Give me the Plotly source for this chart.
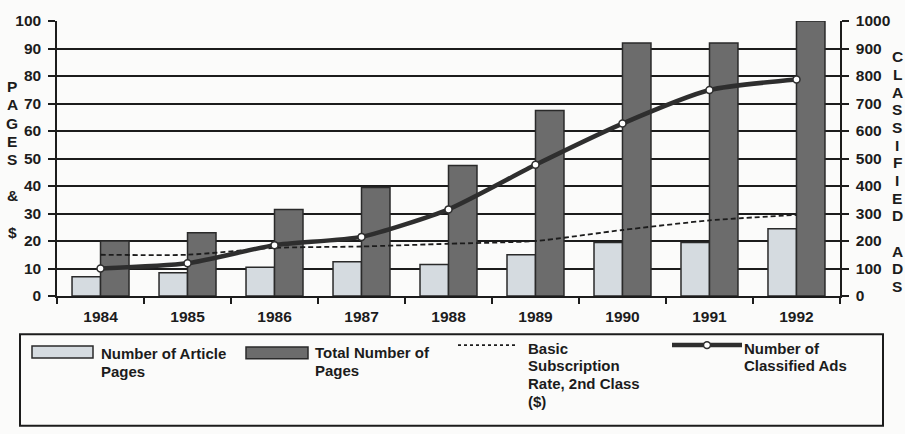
import plotly.graph_objects as go

# ---- data -------------------------------------------------------------
years = ["1984", "1985", "1986", "1987", "1988", "1989", "1990", "1991", "1992"]
article_pages = [7, 8.5, 10.5, 12.5, 11.5, 15, 19.5, 19.5, 24.5]
total_pages = [20, 23, 31.5, 39.5, 47.5, 67.5, 92, 92, 100]
subscription_rate = [15, 15, 17.5, 18, 19, 20, 24, 27.5, 29.5]
classified_ads = [100, 119, 185, 215, 315, 477, 627, 749, 787]

left_ticks = list(range(0, 101, 10))
right_ticks = list(range(0, 1001, 100))

# ---- page geometry (pixels) -----------------------------------------
W, H = 905, 434
PL, PR, PT, PB = 57, 840, 16, 296

INK = "#1c1c1c"
LIGHT = "#d5dbe0"
DARK = "#6c6c6c"
BG = "#fbfbfa"
FONT = "Liberation Sans, Arial, sans-serif"


def fx(x):
    return (x - PL) / (PR - PL)


def fy(y):
    return (PB - y) / (PB - PT)


fig = go.Figure()

fig.add_trace(go.Bar(
    x=years, y=article_pages, name="Number of Article Pages",
    marker=dict(color=LIGHT, line=dict(color="#2a2a2a", width=1.5)),
))
fig.add_trace(go.Bar(
    x=years, y=total_pages, name="Total Number of Pages",
    marker=dict(color=DARK, line=dict(color="#2a2a2a", width=1.5)),
))
fig.add_trace(go.Scatter(
    x=years, y=subscription_rate, name="Basic Subscription Rate, 2nd Class ($)",
    mode="lines", line=dict(color=INK, width=1.8, dash="5px,3px", shape="spline", smoothing=0.6),
))
fig.add_trace(go.Scatter(
    x=years, y=classified_ads, name="Number of Classified Ads", yaxis="y2",
    mode="lines+markers",
    line=dict(color="#2e2e2e", width=4.5, shape="spline", smoothing=0.6),
    marker=dict(symbol="circle", size=7, color="white", line=dict(color="#2e2e2e", width=1.5)),
))

tickfont = dict(family=FONT, size=15.5, color=INK, weight="bold")

fig.update_layout(
    width=W, height=H,
    margin=dict(l=PL, r=W - PR, t=PT, b=H - PB),
    paper_bgcolor=BG, plot_bgcolor=BG,
    showlegend=False,
    barmode="group", bargap=0.345, bargroupgap=0,
    font=dict(family=FONT, color=INK),
    xaxis=dict(
        type="category", showline=True, linecolor=INK, linewidth=1.5,
        ticks="outside", tickson="boundaries", ticklen=6, tickcolor=INK, tickwidth=1.5,
        showgrid=False, tickfont=tickfont, ticklabelstandoff=6,
    ),
    yaxis=dict(
        range=[0, 100], tickvals=left_ticks, showline=True, linecolor=INK, linewidth=1.5,
        ticks="outside", ticklen=7, tickcolor=INK, tickwidth=1.5,
        showgrid=True, gridcolor=INK, gridwidth=1.5, zeroline=False,
        tickfont=tickfont, ticklabelstandoff=4,
    ),
    yaxis2=dict(
        range=[0, 1000], tickvals=right_ticks, overlaying="y", side="right",
        showline=True, linecolor=INK, linewidth=1.5,
        ticks="outside", ticklen=7, tickcolor=INK, tickwidth=1.5,
        showgrid=False, zeroline=False, tickfont=tickfont, ticklabelstandoff=4,
    ),
)

annotations = []
shapes = []


def text_at(x, y, s, size=15, anchor="left"):
    annotations.append(dict(
        x=fx(x), y=fy(y), xref="paper", yref="paper", text=s, showarrow=False,
        xanchor=anchor, yanchor="middle",
        font=dict(family=FONT, size=size, color=INK, weight="bold"),
    ))


# stacked axis titles
for i, ch in enumerate("PAGES & $"):
    if ch != " ":
        text_at(12, 83 + 18.5 * i, ch, size=15.5, anchor="center")
for i, ch in enumerate("CLASSIFIED ADS"):
    if ch != " ":
        text_at(897, 52.5 + 18 * i, ch, size=15.5, anchor="center")

# legend frame
shapes.append(dict(type="rect", xref="paper", yref="paper",
                   x0=fx(20), x1=fx(883), y0=fy(335), y1=fy(428),
                   line=dict(color=INK, width=2), fillcolor="rgba(0,0,0,0)"))

# legend keys
shapes.append(dict(type="rect", xref="paper", yref="paper",
                   x0=fx(32), x1=fx(93), y0=fy(347), y1=fy(359),
                   line=dict(color="#2a2a2a", width=1.5), fillcolor=LIGHT))
shapes.append(dict(type="rect", xref="paper", yref="paper",
                   x0=fx(246), x1=fx(308), y0=fy(348), y1=fy(360),
                   line=dict(color="#2a2a2a", width=1.5), fillcolor=DARK))
shapes.append(dict(type="line", xref="paper", yref="paper",
                   x0=fx(458), x1=fx(516), y0=fy(346), y1=fy(346),
                   line=dict(color=INK, width=1.6, dash="3px,3px")))
shapes.append(dict(type="line", xref="paper", yref="paper",
                   x0=fx(672), x1=fx(742), y0=fy(346), y1=fy(346),
                   line=dict(color="#2e2e2e", width=4.5)))
shapes.append(dict(type="circle", xref="paper", yref="paper",
                   x0=fx(703.5), x1=fx(710.5), y0=fy(342.5), y1=fy(349.5),
                   line=dict(color="#2e2e2e", width=1.5), fillcolor="white"))

# legend labels
for k, line in enumerate(["Number of Article", "Pages"]):
    text_at(99, 355 + 17.5 * k, line)
for k, line in enumerate(["Total Number of", "Pages"]):
    text_at(313, 354 + 17.5 * k, line)
for k, line in enumerate(["Basic", "Subscription", "Rate, 2nd Class", "($)"]):
    text_at(526, 349 + 18.2 * k, line)
for k, line in enumerate(["Number of", "Classified Ads"]):
    text_at(742, 349 + 18.2 * k, line)

fig.update_layout(annotations=annotations, shapes=shapes)

fig.write_html("out.html")
